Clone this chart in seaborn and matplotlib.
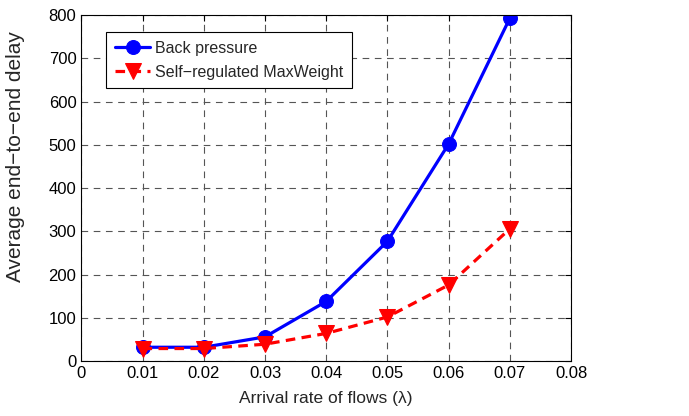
import numpy as np
import pandas as pd
import matplotlib
matplotlib.use("Agg")
import matplotlib.pyplot as plt
import seaborn as sns

# data
arrival_rate = [0.01, 0.02, 0.03, 0.04, 0.05, 0.06, 0.07]
back_pressure = [32, 32, 56, 138, 277, 502, 793]
self_regulated = [29, 29, 39, 64, 102, 176, 306]
x_ticks = [0, 0.01, 0.02, 0.03, 0.04, 0.05, 0.06, 0.07, 0.08]
x_tick_labels = ["0", "0.01", "0.02", "0.03", "0.04", "0.05", "0.06", "0.07", "0.08"]
y_ticks = [0, 100, 200, 300, 400, 500, 600, 700, 800]

sns.set_style("white")
plt.rcParams["font.family"] = ["Liberation Sans", "DejaVu Sans"]
plt.rcParams["axes.unicode_minus"] = True

df = pd.DataFrame({
    "rate": arrival_rate,
    "bp": back_pressure,
    "sr": self_regulated,
})

fig, ax = plt.subplots(figsize=(6.89, 4.16), dpi=100)
fig.subplots_adjust(left=0.118, right=0.829, top=0.964, bottom=0.132)

sns.lineplot(data=df, x="rate", y="bp", ax=ax, color="#0000ff",
             linewidth=2.3, marker="o", markersize=10, markeredgecolor="#0000ff",
             label="Back pressure")
sns.lineplot(data=df, x="rate", y="sr", ax=ax, color="#ff0000",
             linewidth=2.3, linestyle=(0, (3, 2)), marker="v", markersize=12,
             markeredgecolor="#ff0000", label="Self\u2212regulated MaxWeight")

ax.set_xlim(0, 0.08)
ax.set_ylim(0, 800)
ax.set_xticks(x_ticks)
ax.set_xticklabels(x_tick_labels)
ax.set_yticks(y_ticks)
ax.tick_params(direction="in", length=4, labelsize=12, top=True, right=True,
               colors="black", width=0.8)
ax.grid(True, linestyle=(0, (6, 5)), color="#555555", linewidth=0.8)
for s in ax.spines.values():
    s.set_color("black")
    s.set_linewidth(0.8)

ax.set_xlabel("Arrival rate of flows (\u03bb)", fontsize=12.5, labelpad=7)
ax.set_ylabel("Average end\u2212to\u2212end delay", fontsize=15)
ax.yaxis.set_label_coords(-0.115, 0.59)

leg = ax.legend(loc="upper left", bbox_to_anchor=(0.051, 0.951), borderaxespad=0,
                fontsize=11.5, frameon=True, fancybox=False, edgecolor="black",
                framealpha=1, handlelength=2.2, borderpad=0.55, labelspacing=0.55,
                handletextpad=0.3)
leg.get_frame().set_linewidth(0.8)

fig.savefig("out.png", dpi=100)
